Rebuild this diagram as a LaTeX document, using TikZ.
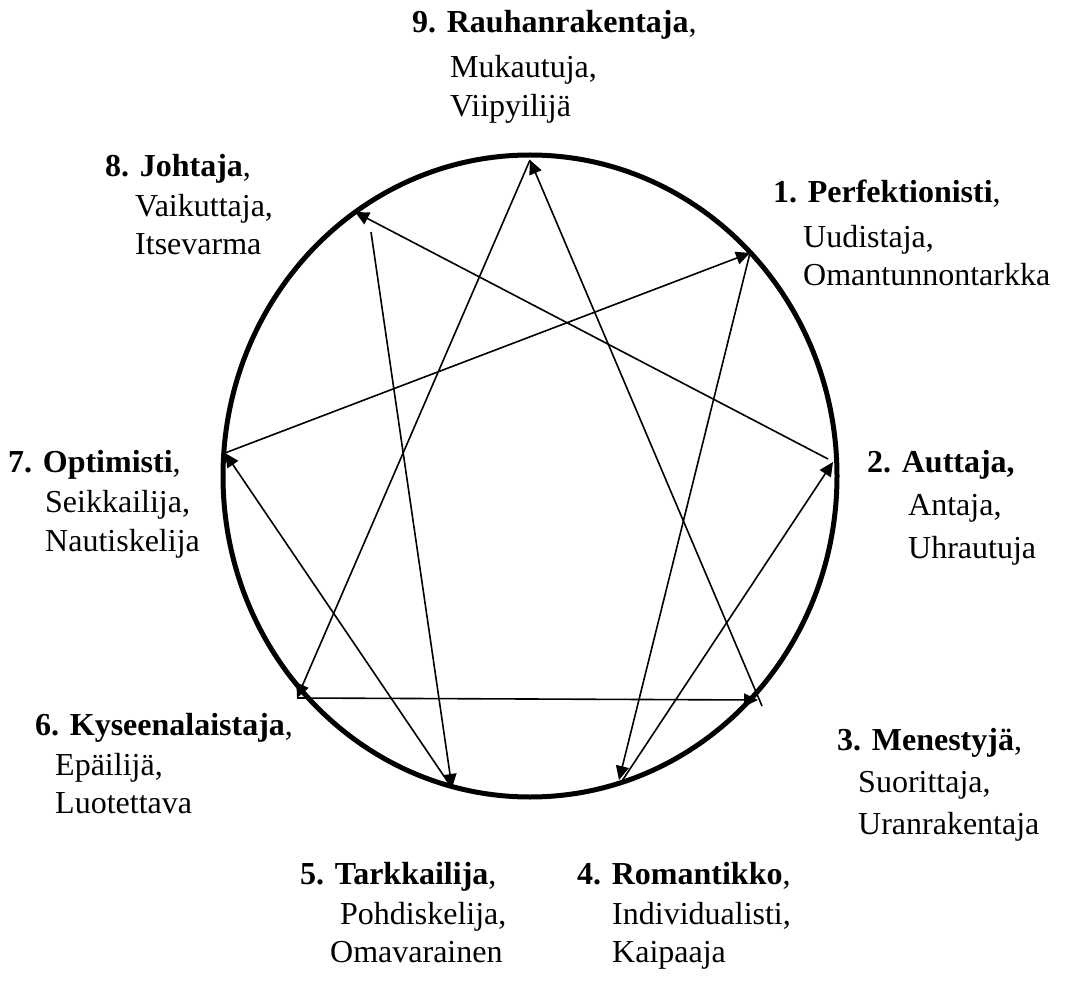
\documentclass[tikz,border=0pt]{standalone}
\usepackage{fontspec}
\setmainfont{Liberation Serif}
\usetikzlibrary{arrows.meta}
\begin{document}
\begin{tikzpicture}[x=1pt,y=-1pt,
  lbl/.style={anchor=base west, inner sep=0pt, font=\fontsize{32}{38}\selectfont},
  conn/.style={line width=1.6pt, -{Triangle[length=14pt,width=13pt]}},
  ring/.style={line width=5pt},
]
\useasboundingbox (0,0) rectangle (1077,984);
% ring
\draw[ring] (530,476) ellipse [x radius=307pt, y radius=321pt];
% points on the ring
\coordinate (p9) at (530,160);
\coordinate (p1) at (750,253);
\coordinate (p2) at (833,462);
\coordinate (p3) at (758,700);
\coordinate (p4) at (619,780);
\coordinate (p5) at (452,788);
\coordinate (p6) at (297,698);
\coordinate (p7) at (225,453);
\coordinate (p8) at (355,212);
% free start points
\coordinate (s2) at (828,459);
\coordinate (s8) at (371,232);
\coordinate (s4) at (620,784);
\coordinate (s3) at (762,706);
% connectors
\draw[conn] (p7) -- (p1);
\draw[conn] (p1) -- (p4);
\draw[conn] (s4) -- (p2);
\draw[conn] (s2) -- (p8);
\draw[conn] (s8) -- (p5);
\draw[conn] (p5) -- (p7);
\draw[conn] (s3) -- (p9);
\draw[conn] (p9) -- (p6);
\draw[conn] (p6) -- (p3);
% labels
\node[lbl] (t9a) at (412,33) {\textbf{9. Rauhanrakentaja},};
\node[lbl] (t9b) at (450,78) {Mukautuja,};
\node[lbl] (t9c) at (450,117) {Viipyilijä};
\node[lbl] (t1a) at (773,203) {\textbf{1. Perfektionisti},};
\node[lbl] (t1b) at (803,248) {Uudistaja,};
\node[lbl] (t1c) at (803,286) {Omantunnontarkka};
\node[lbl] (t2a) at (867,472) {\textbf{2. Auttaja,}};
\node[lbl] (t2b) at (908,515) {Antaja,};
\node[lbl] (t2c) at (908,558) {Uhrautuja};
\node[lbl] (t8a) at (105,177) {\textbf{8. Johtaja},};
\node[lbl] (t8b) at (135,217) {Vaikuttaja,};
\node[lbl] (t8c) at (135,255) {Itsevarma};
\node[lbl] (t7a) at (8,472) {\textbf{7. Optimisti},};
\node[lbl] (t7b) at (45,512) {Seikkailija,};
\node[lbl] (t7c) at (45,551) {Nautiskelija};
\node[lbl] (t6a) at (35,735) {\textbf{6. Kyseenalaistaja},};
\node[lbl] (t6b) at (55,775) {Epäilijä,};
\node[lbl] (t6c) at (55,813) {Luotettava};
\node[lbl] (t3a) at (837,750) {\textbf{3. Menestyjä},};
\node[lbl] (t3b) at (858,792) {Suorittaja,};
\node[lbl] (t3c) at (858,834) {Uranrakentaja};
\node[lbl] (t5a) at (300,884) {\textbf{5. Tarkkailija},};
\node[lbl] (t5b) at (340,924) {Pohdiskelija,};
\node[lbl] (t5c) at (330,962) {Omavarainen};
\node[lbl] (t4a) at (577,884) {\textbf{4. Romantikko},};
\node[lbl] (t4b) at (612,924) {Individualisti,};
\node[lbl] (t4c) at (612,962) {Kaipaaja};
\end{tikzpicture}
\end{document}
